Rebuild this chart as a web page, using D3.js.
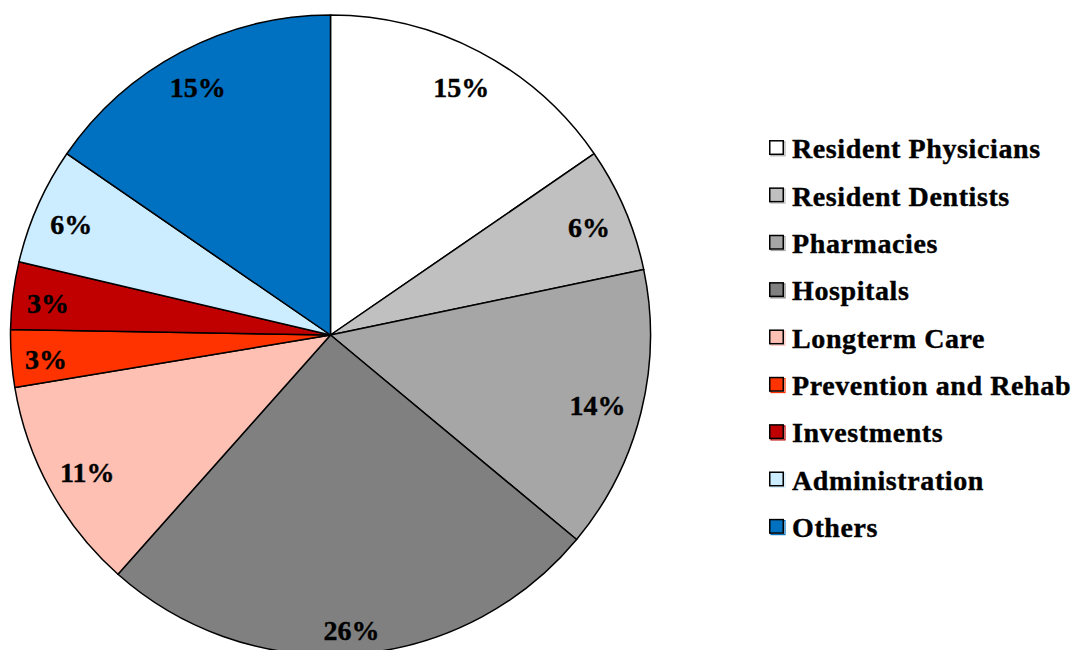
<!DOCTYPE html>
<html>
<head>
<meta charset="utf-8">
<script src="https://cdn.jsdelivr.net/npm/d3@7"></script>
<style>
  html, body { margin: 0; padding: 0; background: #ffffff; }
  svg { display: block; }
</style>
</head>
<body>
<svg id="chart" width="1075" height="650"></svg>
<script>
const categories = ["Resident Physicians", "Resident Dentists", "Pharmacies", "Hospitals",
  "Longterm Care", "Prevention and Rehab", "Investments", "Administration", "Others"];
const values = [15.4, 6.3, 14.3, 25.5, 10.8, 2.9, 3.4, 5.9, 15.4];
const colors = ["#FFFFFF", "#C0C0C0", "#A6A6A6", "#808080", "#FFC0B4", "#FF3300", "#C00000", "#CCECFF", "#0070C0"];

const svg = d3.select("#chart");
const cx = 330.5, cy = 335, R = 320;
const font = "'Liberation Serif', 'Times New Roman', serif";

const data = categories.map((c, i) => ({ name: c, value: values[i], color: colors[i] }));
const pie = d3.pie().sort(null).value(d => d.value).startAngle(0).endAngle(2 * Math.PI);
const arcs = pie(data);
const arc = d3.arc().innerRadius(0).outerRadius(R);

const g = svg.append("g").attr("transform", `translate(${cx},${cy})`);
g.selectAll("path.slice").data(arcs).enter().append("path")
  .attr("class", "slice")
  .attr("d", arc)
  .attr("fill", d => d.data.color)
  .attr("stroke", "#000")
  .attr("stroke-width", 1.5)
  .attr("stroke-linejoin", "round");

const total = d3.sum(values);
const labels = g.selectAll("text.lbl").data(arcs).enter().append("text")
  .attr("class", "lbl")
  .attr("text-anchor", "middle")
  .attr("font-family", font)
  .attr("font-weight", "bold")
  .attr("font-size", 28)
  .attr("fill", "#000")
  .attr("stroke", "#000")
  .attr("stroke-width", 0.4)
  .text(d => Math.round(d.data.value / total * 100) + "%");

labels.each(function(d) {
  const w = this.getComputedTextLength();
  const h = 22;
  const a = (d.startAngle + d.endAngle) / 2;
  const s = Math.sin(a), c = Math.cos(a);
  const dist = 306 - (Math.abs(s) * w / 2 + Math.abs(c) * h / 2);
  const x = s * dist, y = -c * dist;
  d3.select(this).attr("x", x - 1).attr("y", y + 13);
});

// Legend
const legend = svg.append("g").attr("transform", "translate(769,0)");
const rowY = d3.scaleLinear().domain([0, 1]).range([158.3, 158.3 + 47.35]);
const items = legend.selectAll("g.item").data(data).enter().append("g")
  .attr("class", "item")
  .attr("transform", (d, i) => `translate(0,${rowY(i)})`);
items.append("rect")
  .attr("x", 2).attr("y", -16.5)
  .attr("width", 14).attr("height", 14)
  .attr("fill", "none")
  .attr("stroke", d => d.color === "#FFFFFF" ? "#B0B0B0" : d.color)
  .attr("stroke-width", 1.2);
items.append("rect")
  .attr("x", 0.75).attr("y", -17.5)
  .attr("width", 13.5).attr("height", 13.5)
  .attr("fill", d => d.color)
  .attr("stroke", "#000")
  .attr("stroke-width", 1.5);
items.append("text")
  .attr("x", 23).attr("y", 0)
  .attr("font-family", font)
  .attr("font-weight", "bold")
  .attr("font-size", 28)
  .attr("letter-spacing", 0.6)
  .attr("fill", "#000")
  .attr("stroke", "#000")
  .attr("stroke-width", 0.4)
  .text(d => d.name);
</script>
</body>
</html>
